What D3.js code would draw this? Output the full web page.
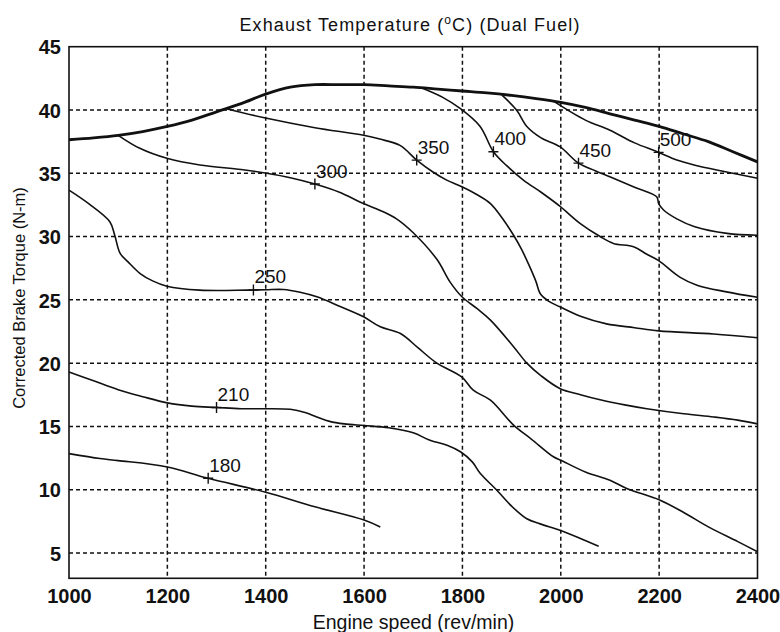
<!DOCTYPE html>
<html>
<head>
<meta charset="utf-8">
<script src="https://cdn.jsdelivr.net/npm/d3@7"></script>
<style>
  body { margin: 0; background: #fff; }
  svg { display: block; }
  text { font-family: "Liberation Sans", Arial, Helvetica, sans-serif; fill: #111; }
</style>
</head>
<body>
<svg id="chart" width="780" height="632"></svg>
<script>
// Axis ticks
const xTicks = [1000, 1200, 1400, 1600, 1800, 2000, 2200, 2400];
const yTicks = [5, 10, 15, 20, 25, 30, 35, 40, 45];

// Maximum-torque curve (engine speed rpm, torque N-m)
const maxTorque = [
  [1000, 37.65], [1050, 37.8], [1100, 38.0], [1150, 38.3], [1200, 38.7], [1250, 39.2],
  [1300, 39.85], [1350, 40.5], [1400, 41.25], [1450, 41.8], [1500, 42.0], [1550, 42.0],
  [1600, 42.0], [1650, 41.9], [1700, 41.8], [1750, 41.65], [1800, 41.5], [1850, 41.35],
  [1900, 41.15], [1950, 40.9], [2000, 40.6], [2050, 40.2], [2100, 39.7], [2150, 39.2],
  [2200, 38.7], [2250, 38.1], [2300, 37.5], [2350, 36.7], [2400, 35.9]
];

// Exhaust temperature iso-lines (rpm, torque)
const contour180 = [
  [1000, 12.85], [1063, 12.46], [1100, 12.3], [1200, 11.8], [1283, 10.9],
  [1400, 9.8], [1500, 8.65], [1600, 7.6], [1633, 7.05]
];
const contour210 = [
  [1000, 19.3], [1050, 18.6], [1100, 17.9], [1150, 17.35], [1200, 16.86], [1250, 16.6],
  [1300, 16.5], [1350, 16.4], [1400, 16.4], [1450, 16.35], [1480, 16.1], [1504, 15.75],
  [1530, 15.4], [1560, 15.2], [1600, 15.07], [1650, 14.9], [1700, 14.5], [1734, 13.9],
  [1770, 13.5], [1796, 13.0], [1820, 12.2], [1836, 11.3], [1870, 9.96], [1900, 8.7],
  [1931, 7.7], [1958, 7.3], [1998, 6.8], [2040, 6.15], [2077, 5.53]
];
const contour250 = [
  [1000, 33.67], [1040, 32.6], [1083, 31.17], [1093, 30.1], [1104, 28.67], [1120, 28.0],
  [1144, 27.1], [1170, 26.5], [1199, 26.08], [1266, 25.77], [1361, 25.77], [1400, 25.8],
  [1436, 25.82], [1470, 25.6], [1504, 25.24], [1550, 24.5], [1599, 23.66], [1633, 22.87],
  [1674, 22.34], [1710, 21.2], [1748, 20.0], [1799, 18.9], [1822, 17.86], [1857, 17.07],
  [1904, 15.1], [1940, 14.0], [1985, 12.6], [2000, 12.33], [2050, 11.4], [2100, 10.75],
  [2134, 10.1], [2202, 9.17], [2250, 8.2], [2300, 7.06], [2360, 5.9], [2400, 5.1]
];
const contour300 = [
  [1100, 38.0], [1144, 36.97], [1199, 36.18], [1266, 35.65], [1350, 35.3], [1402, 35.0],
  [1450, 34.65], [1500, 34.15], [1550, 33.5], [1595, 32.67], [1633, 32.06], [1666, 31.4],
  [1700, 30.3], [1748, 28.2], [1775, 26.4], [1799, 25.24], [1830, 24.3], [1857, 23.4],
  [1904, 21.3], [1931, 20.0], [1960, 19.0], [1998, 18.0], [2040, 17.5], [2080, 17.1],
  [2130, 16.7], [2175, 16.4], [2250, 16.0], [2311, 15.75], [2360, 15.5], [2400, 15.2]
];
const contour350 = [
  [1320, 40.1], [1402, 39.34], [1500, 38.6], [1599, 38.0], [1632, 37.7], [1673, 37.2],
  [1707, 36.04], [1740, 35.1], [1768, 34.46], [1799, 33.93], [1830, 33.3], [1857, 32.6],
  [1880, 31.5], [1904, 30.1], [1920, 29.0], [1937, 27.6], [1950, 26.4], [1958, 25.5],
  [1975, 24.9], [1998, 24.45], [2040, 23.7], [2093, 23.1], [2150, 22.8], [2199, 22.55],
  [2311, 22.3], [2400, 22.0]
];
const contour400 = [
  [1715, 41.78], [1760, 41.0], [1796, 40.1], [1836, 38.7], [1863, 36.7], [1890, 35.6],
  [1924, 34.46], [1960, 33.5], [1998, 32.4], [2039, 31.04], [2080, 30.0], [2107, 29.46],
  [2148, 29.2], [2175, 28.6], [2199, 28.1], [2242, 26.8], [2277, 26.16], [2337, 25.63],
  [2400, 25.2]
];
const contour450 = [
  [1880, 41.2], [1910, 40.0], [1931, 38.7], [1960, 37.8], [1998, 37.1], [2036, 35.8],
  [2070, 35.2], [2101, 34.7], [2150, 33.9], [2195, 33.14], [2199, 32.6], [2209, 32.1],
  [2236, 31.4], [2271, 30.8], [2338, 30.25], [2400, 30.1]
];
const contour500 = [
  [1985, 40.7], [2050, 39.2], [2100, 38.4], [2150, 37.4], [2196, 36.7], [2236, 36.04],
  [2271, 35.65], [2337, 35.1], [2400, 34.6]
];

// Contour levels (deg C) and the engine speed where each label sits
const levels = [180, 210, 250, 300, 350, 400, 450, 500];
const labelRpm = [1283, 1300, 1375, 1500, 1707, 1863, 2036, 2199];

const contours = [contour180, contour210, contour250, contour300,
                  contour350, contour400, contour450, contour500];

const svg = d3.select("#chart");
const plotLeft = 69, plotRight = 757.5, plotTop = 46.7, plotBottom = 578.3;

const x = d3.scaleLinear().domain([1000, 2400]).range([plotLeft, plotRight]);
const y = d3.scaleLinear().domain([3, 45]).range([plotBottom, plotTop]);

// Dashed grid
const grid = svg.append("g")
  .attr("stroke", "#111").attr("stroke-width", 1.5).attr("stroke-dasharray", "4,3");
grid.selectAll("line.v").data(xTicks.slice(1, -1)).join("line").attr("class", "v")
  .attr("x1", d => x(d)).attr("x2", d => x(d)).attr("y1", plotTop).attr("y2", plotBottom);
grid.selectAll("line.h").data(yTicks.slice(0, -1)).join("line").attr("class", "h")
  .attr("x1", plotLeft).attr("x2", plotRight).attr("y1", d => y(d)).attr("y2", d => y(d));

// Axes (labels only; frame drawn separately)
const xAxis = d3.axisBottom(x).tickValues(xTicks).tickSize(0).tickPadding(10).tickFormat(d3.format("d"));
const yAxis = d3.axisLeft(y).tickValues(yTicks).tickSize(0).tickPadding(8).tickFormat(d3.format("d"));

const gx = svg.append("g").attr("transform", `translate(0,${plotBottom})`).call(xAxis);
const gy = svg.append("g").attr("transform", `translate(${plotLeft},0)`).call(yAxis);
[gx, gy].forEach(g => {
  g.select(".domain").remove();
  g.selectAll("text")
    .style("font-family", '"Liberation Sans", Arial, sans-serif')
    .style("font-size", "20px").style("font-weight", "bold").attr("fill", "#111");
});
gx.selectAll("text").attr("dy", "0.71em").attr("y", 11);
gy.selectAll("text").attr("dy", "0.36em").attr("x", -8);

// Lines
const line = d3.line().x(d => x(d[0])).y(d => y(d[1])).curve(d3.curveCatmullRom.alpha(0.5));

svg.append("g").selectAll("path").data(contours).join("path")
  .attr("d", line).attr("fill", "none").attr("stroke", "#111")
  .attr("stroke-width", 1.6).attr("stroke-linejoin", "round");

svg.append("path").datum(maxTorque).attr("d", line)
  .attr("fill", "none").attr("stroke", "#111").attr("stroke-width", 2.8);

// Contour labels with '+' markers on the line
function torqueAt(pts, rpm) {
  const i = Math.max(1, Math.min(pts.length - 1, d3.bisector(d => d[0]).left(pts, rpm)));
  const a = pts[i - 1], b = pts[i];
  const t = (rpm - a[0]) / (b[0] - a[0]);
  return a[1] + t * (b[1] - a[1]);
}

const labels = levels.map((lv, i) => ({
  level: lv, rpm: labelRpm[i], torque: torqueAt(contours[i], labelRpm[i])
}));

const lab = svg.append("g").selectAll("g").data(labels).join("g")
  .attr("transform", d => `translate(${x(d.rpm)},${y(d.torque)})`);
lab.append("path").attr("d", "M-5,0H5M0,-5.5V5.5")
  .attr("stroke", "#111").attr("stroke-width", 1.4).attr("fill", "none");
lab.append("text").attr("x", 1).attr("y", -6.5)
  .style("font-size", "19px").text(d => d.level);

// Frame
svg.append("rect").attr("x", plotLeft).attr("y", plotTop)
  .attr("width", plotRight - plotLeft).attr("height", plotBottom - plotTop)
  .attr("fill", "none").attr("stroke", "#111").attr("stroke-width", 1.6);

// Title
const title = svg.append("text").attr("x", 410).attr("y", 31)
  .attr("text-anchor", "middle").style("font-size", "18px").style("letter-spacing", "1.1px");
title.append("tspan").text("Exhaust Temperature (");
title.append("tspan").attr("dy", -7).style("font-size", "12px").text("o");
title.append("tspan").attr("dy", 7).text("C) (Dual Fuel)");

// Axis titles
svg.append("text").attr("x", 413.5).attr("y", 629)
  .attr("text-anchor", "middle").style("font-size", "19.5px")
  .text("Engine speed (rev/min)");

svg.append("text").attr("transform", "translate(25,298) rotate(-90)")
  .attr("text-anchor", "middle").style("font-size", "16.5px")
  .text("Corrected Brake Torque (N-m)");
</script>
</body>
</html>
